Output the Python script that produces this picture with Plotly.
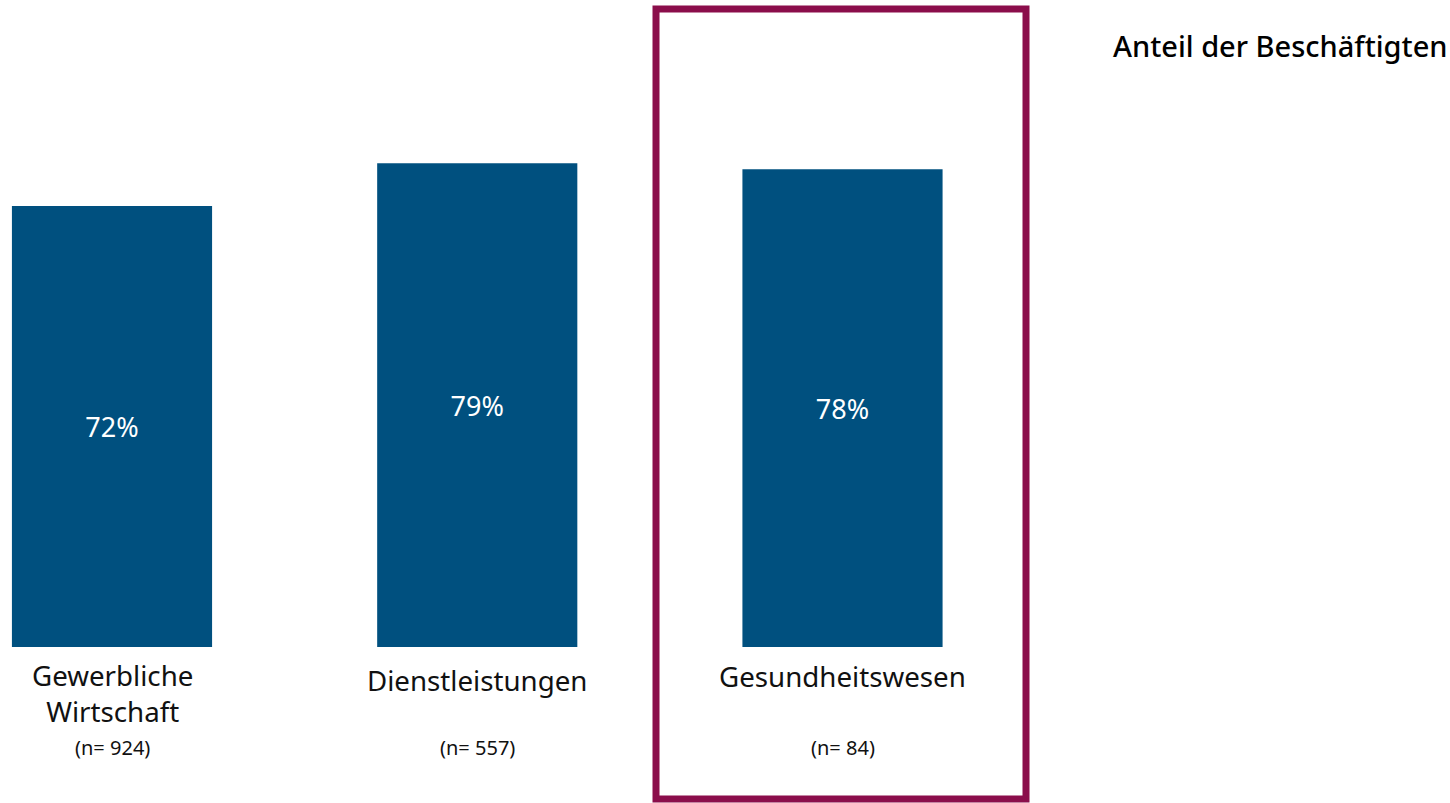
import plotly.graph_objects as go

categories = ["Gewerbliche<br>Wirtschaft", "Dienstleistungen", "Gesundheitswesen"]
values = [72, 79, 78]
sample_sizes = ["(n= 924)", "(n= 557)", "(n= 84)"]
title_text = "Anteil der Beschäftigten"

W, H = 1450, 803
PLOT_H = 647
BAR_COLOR = "#00507F"
FRAME_COLOR = "#8B0E4B"
FONT = "Noto Sans"

xs = list(range(len(categories)))

fig = go.Figure(go.Bar(
    x=xs, y=values, width=0.548,
    marker=dict(color=BAR_COLOR, line=dict(width=0)),
    text=[f"{v}%" for v in values],
    textposition="inside", insidetextanchor="middle",
    textfont=dict(family=FONT, size=27, color="white"),
    hoverinfo="skip",
))

label_y = [-0.0711, -0.051, -0.0448]
for i, (c, n) in enumerate(zip(categories, sample_sizes)):
    fig.add_annotation(x=i, xref="x", y=label_y[i], yref="paper", text=c,
                       showarrow=False, yanchor="middle", xanchor="center",
                       font=dict(family=FONT, size=27.7, color="#111111"))
    fig.add_annotation(x=i, xref="x", y=-0.1546, yref="paper", text=n,
                       showarrow=False, yanchor="middle", xanchor="center",
                       font=dict(family=FONT, size=20, color="#111111"))

fig.add_annotation(x=1.0, xref="paper", y=0.930, yref="paper", text=title_text,
                   showarrow=False, xanchor="right", yanchor="middle",
                   font=dict(family=FONT, size=29, color="#000000", weight=500))

# highlight frame around the third category
fig.add_shape(type="rect", xref="paper", yref="paper",
              x0=656 / W, x1=1026 / W, y0=(PLOT_H - 799) / PLOT_H, y1=(PLOT_H - 9) / PLOT_H,
              line=dict(color=FRAME_COLOR, width=7), fillcolor="rgba(0,0,0,0)", layer="above")

x0 = -112 / 365.25
fig.update_layout(
    width=W, height=H,
    margin=dict(l=0, r=0, t=0, b=H - PLOT_H, pad=0),
    plot_bgcolor="white", paper_bgcolor="white",
    showlegend=False,
    xaxis=dict(range=[x0, x0 + W / 365.25], visible=False, fixedrange=True),
    yaxis=dict(range=[0, PLOT_H / 6.125], visible=False, fixedrange=True),
)

fig.write_html("out.html")
